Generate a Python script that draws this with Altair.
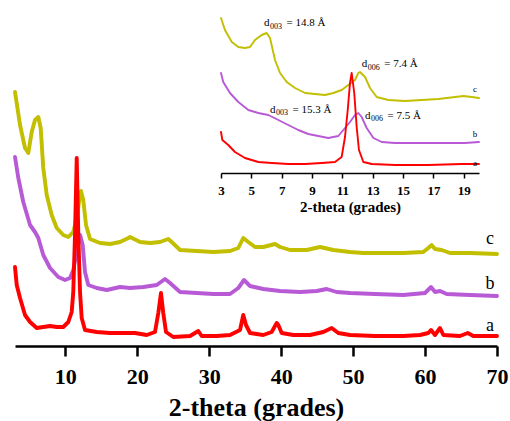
import altair as alt
import pandas as pd

SERIF = "Liberation Serif"
RED = "#FF0000"
PURPLE = "#B85AD6"
YELLOW = "#C2BE00"

# ---------------- main pattern (2-theta in degrees, intensity in a.u.) ----------------
main_c_x = [3.0, 3.70, 4.39, 4.85, 5.32, 5.78, 6.24, 6.57, 6.93, 7.41, 8.10, 8.80, 9.71, 10.41, 11.10,
            11.58, 11.90, 12.17, 12.49, 12.87, 13.43, 14.82, 16.21, 17.60, 18.75, 18.99, 20.38, 21.77,
            23.16, 24.31, 24.78, 25.94, 28.26, 30.56, 32.89, 34.04, 34.73, 35.43, 36.36, 37.51, 39.14,
            39.84, 41.23, 43.55, 45.40, 47.25, 49.57, 51.41, 53.04, 56.98, 59.75, 60.45, 60.92, 61.38,
            62.31, 63.47, 66.25, 70.0]
main_c_y = [254, 221, 198, 193, 214, 226, 229, 218, 178, 151, 131, 118, 111, 109, 114,
            128, 144, 155, 146, 121, 107, 103, 102, 104, 108, 109, 104, 103,
            104, 107, 104, 96, 95, 94, 95, 98, 108, 104, 99, 99, 102,
            99, 96, 96, 99, 96, 94, 93, 93, 93, 94, 98, 101, 97,
            96, 93, 93, 92]

main_b_x = [3.0, 3.46, 4.15, 5.09, 5.78, 6.24, 6.93, 7.87, 9.02, 9.95, 10.65, 11.10, 11.58, 12.04,
            12.41, 12.73, 13.19, 14.36, 15.75, 17.60, 18.99, 20.84, 22.70, 23.85, 24.55, 25.94, 28.26,
            30.56, 32.89, 34.04, 34.83, 35.67, 37.51, 39.84, 42.62, 44.94, 46.33, 47.72, 49.57, 53.04,
            56.98, 59.99, 60.83, 61.38, 62.08, 63.01, 66.25, 70.0]
main_b_y = [189, 168, 144, 121, 114, 108, 91, 78, 69, 66, 68, 76, 94, 111,
            101, 74, 61, 58, 56, 59, 58, 59, 61, 67, 63, 54, 53,
            52, 52, 58, 66, 60, 57, 55, 54, 55, 57, 54, 53, 52,
            51, 53, 59, 54, 55, 52, 51, 50]

main_a_x = [3.0, 3.24, 3.70, 4.39, 5.09, 6.02, 6.93, 7.87, 8.80, 9.71, 10.41, 10.88, 11.10, 11.34,
            11.58, 11.80, 12.04, 12.27, 12.73, 14.36, 16.21, 18.53, 19.68, 21.31, 22.46, 22.92, 23.29,
            23.61, 23.99, 25.00, 27.33, 28.48, 28.95, 31.04, 32.89, 34.28, 34.73, 35.11, 35.67, 37.51,
            38.68, 39.38, 39.60, 40.07, 41.69, 44.01, 45.85, 47.02, 47.94, 49.57, 53.04, 56.98, 59.30,
            60.45, 60.83, 61.38, 62.08, 62.54, 64.86, 65.93, 66.71, 70.0]
main_a_y = [79, 61, 48, 31, 24, 18, 19, 20, 19, 19, 24, 34, 54, 111,
            188, 111, 54, 28, 16, 14, 13, 13, 13, 11, 14, 33, 53,
            33, 14, 9, 10, 15, 10, 10, 11, 16, 31, 21, 13, 11,
            14, 23, 21, 13, 11, 11, 14, 18, 13, 11, 10, 10, 11,
            13, 16, 11, 18, 11, 10, 13, 10, 10]

main_ticks = [10, 20, 30, 40, 50, 60, 70]
main_labels = ["c", "b", "a"]
main_label_x = [69.03, 69.03, 69.03]
main_label_y = [102, 57.5, 15.5]

# ---------------- inset (low-angle zoom) ----------------
ins_c_x = [3.0, 3.26, 3.71, 4.14, 4.58, 4.91, 5.24, 5.68, 6.01, 6.23, 6.56, 6.89, 7.33, 7.88, 8.54,
           9.19, 9.85, 10.40, 10.95, 11.39, 11.83, 12.05, 12.16, 12.49, 12.82, 13.26, 14.02, 15.12,
           16.22, 17.32, 18.42, 18.97, 19.52, 20.0]
ins_c_y = [155, 143, 131, 126, 125, 126, 133, 138, 140, 135, 113, 100, 91, 85, 80,
           79, 78, 80, 83, 88, 93, 100, 101, 96, 85, 76, 73, 72,
           73, 74, 76, 77, 76, 75]

ins_b_x = [3.0, 3.15, 3.59, 4.14, 4.80, 5.46, 6.12, 6.78, 7.43, 8.09, 8.75, 9.41, 10.07, 10.73,
           11.17, 11.50, 11.83, 12.05, 12.27, 12.60, 13.04, 13.59, 14.47, 15.57, 16.88, 18.20, 19.08, 20.0]
ins_b_y = [100, 91, 80, 71, 63, 60, 58, 53, 48, 43, 39, 37, 35, 37,
           45, 51, 58, 60, 56, 45, 35, 31, 30, 30, 30, 30, 30, 31]

ins_a_x = [3.0, 3.09, 3.48, 3.92, 4.58, 5.46, 6.34, 7.43, 8.54, 9.64, 10.51, 10.95, 11.17, 11.35,
           11.50, 11.61, 11.78, 11.94, 12.09, 12.38, 12.93, 14.47, 16.66, 18.86, 20.0]
ins_a_y = [41, 33, 28, 21, 15, 11, 10, 9, 9, 10, 11, 16, 36, 63,
           90, 100, 80, 46, 23, 11, 9, 8, 8, 9, 9]

ins_ticks = [3, 5, 7, 9, 11, 13, 15, 17, 19]
ins_labels = ["c", "b", "a"]
ins_label_x = [19.74, 19.74, 19.74]
ins_label_y = [81.3, 35.7, 7.3]

ann_x = [5.83, 12.27, 6.23, 12.49]
ann_y = [147, 106, 60.3, 54.3]
ann_sub = ["003", "006", "003", "006"]
ann_rest = ["= 14.8 Å", "= 7.4 Å", "= 15.3 Å", "= 7.5 Å"]


def df(xs, ys, **extra):
    assert len(xs) == len(ys)
    d = pd.DataFrame({"x": xs, "y": ys})
    for k, v in extra.items():
        d[k] = v
    return d


main_axis = alt.Axis(
    values=main_ticks, orient="bottom", title="2-theta (grades)", format="d",
    grid=False, labelFlush=False, labelOverlap=False,
    labelFont=SERIF, labelFontWeight="bold", labelFontSize=22, labelColor="black",
    labelBaseline="alphabetic", labelPadding=27,
    tickSize=10, tickWidth=2.5, tickColor="black",
    domainColor="black", domainWidth=2.5,
    titleFont=SERIF, titleFontSize=26, titleFontWeight="bold", titleColor="black",
    titleBaseline="alphabetic", titleY=69,
)
ins_axis = alt.Axis(
    values=ins_ticks, orient="bottom", offset=-173, title="2-theta (grades)", format="d",
    grid=False, labelFlush=False, labelOverlap=False,
    labelFont=SERIF, labelFontWeight="bold", labelFontSize=13, labelColor="black",
    labelBaseline="alphabetic", labelPadding=16,
    tickSize=5, tickWidth=1.5, tickColor="black",
    domainColor="black", domainWidth=1.5,
    titleFont=SERIF, titleFontSize=15, titleFontWeight="bold", titleColor="black",
    titleBaseline="alphabetic", titleY=38,
)

XM = alt.X("x:Q", scale=alt.Scale(domain=[3, 70], nice=False, zero=False), axis=main_axis)
YM = alt.Y("y:Q", scale=alt.Scale(domain=[0, 346], nice=False, zero=False), axis=None)
XI = alt.X("x:Q", scale=alt.Scale(domain=[3, 20], range=[206, 464], nice=False, zero=False), axis=ins_axis)
YI = alt.Y("y:Q", scale=alt.Scale(domain=[0, 173], range=[173, 0], nice=False, zero=False), axis=None)


def line(d, color, width, X, Y):
    return alt.Chart(d).mark_line(color=color, strokeWidth=width, strokeJoin="round",
                                  strokeCap="round").encode(x=X, y=Y, order="x:Q")


main = alt.layer(
    line(df(main_c_x, main_c_y), YELLOW, 3.9, XM, YM),
    line(df(main_b_x, main_b_y), PURPLE, 3.9, XM, YM),
    line(df(main_a_x, main_a_y), RED, 3.9, XM, YM),
    alt.Chart(df(main_label_x, main_label_y, t=main_labels)).mark_text(
        font=SERIF, fontSize=18, color="black", align="center", baseline="alphabetic"
    ).encode(x=XM, y=YM, text="t:N"),
)

ann = df(ann_x, ann_y, sub=ann_sub, rest=ann_rest, d=["d"] * 4)
inset = alt.layer(
    line(df(ins_c_x, ins_c_y), YELLOW, 1.9, XI, YI),
    line(df(ins_b_x, ins_b_y), PURPLE, 1.9, XI, YI),
    line(df(ins_a_x, ins_a_y), RED, 1.9, XI, YI),
    alt.Chart(df(ins_label_x, ins_label_y, t=ins_labels)).mark_text(
        font=SERIF, fontSize=9, color="black", align="center", baseline="alphabetic"
    ).encode(x=XI, y=YI, text="t:N"),
    alt.Chart(ann).mark_text(font=SERIF, fontSize=11, color="black", align="left",
                             baseline="alphabetic").encode(x=XI, y=YI, text="d:N"),
    alt.Chart(ann).mark_text(font=SERIF, fontSize=8, color="black", align="left",
                             baseline="alphabetic", dx=6, dy=2.7).encode(x=XI, y=YI, text="sub:N"),
    alt.Chart(ann).mark_text(font=SERIF, fontSize=11, color="black", align="left",
                             baseline="alphabetic", dx=22.5).encode(x=XI, y=YI, text="rest:N"),
)

chart = alt.layer(main, inset).resolve_scale(x="independent", y="independent").properties(
    width=482, height=346,
    autosize=alt.AutoSizeParams(type="none"),
    padding={"left": 15, "top": 0, "right": 13, "bottom": 75},
    background="white",
).configure_view(stroke=None)

chart.save("out.html", embed_options={"renderer": "svg", "actions": False})
